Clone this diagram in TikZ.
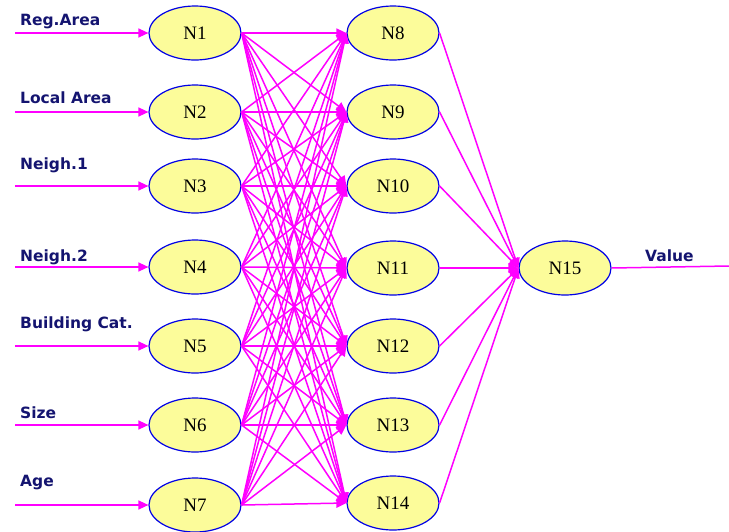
\documentclass[tikz,border=0pt]{standalone}
\usepackage{fontspec}
\setmainfont{Liberation Serif}
\newfontfamily\labfont{DejaVu Sans}
\usetikzlibrary{arrows.meta,shapes.geometric}
\definecolor{mag}{HTML}{FF00FF}
\definecolor{nodefill}{HTML}{FCFC9A}
\definecolor{nodeline}{HTML}{0000E6}
\definecolor{labcol}{HTML}{141470}
\tikzset{
  neuron/.style={ellipse, draw=nodeline, line width=1.2pt, fill=nodefill, minimum width=92pt, minimum height=54pt, inner sep=0pt, font=\fontsize{19}{19}\selectfont},
  conn/.style={draw=mag, line width=1.5pt, -{Triangle[length=10pt,width=9pt]}},
  plain/.style={draw=mag, line width=1.5pt},
  inlab/.style={anchor=base west, text=labcol, font=\labfont\bfseries\fontsize{15.5}{16}\selectfont, inner sep=0pt}
}
\begin{document}
\begin{tikzpicture}[x=1pt,y=-1pt]
\useasboundingbox (0,0) rectangle (729,531);
% input layer
\foreach \i/\y in {1/33,2/112,3/186,4/267,5/346,6/425,7/505}{
  \node[neuron] (n\i) at (195,\y) {N\i};
  \coordinate (s\i) at (15,\y);
}
% hidden layer
\foreach \i/\y in {8/33,9/112,10/186,11/268,12/346,13/425,14/503}{
  \node[neuron] (n\i) at (393,\y) {N\i};
}
\node[neuron] (n15) at (565,268) {N15};
\coordinate (out) at (729,266);
% labels
\node[inlab] at (20,25) {Reg.Area};
\node[inlab] at (20,103) {Local Area};
\node[inlab] at (20,169) {Neigh.1};
\node[inlab] at (20,261) {Neigh.2};
\node[inlab] at (20,328) {Building Cat.};
\node[inlab] at (20,418) {Size};
\node[inlab] at (20,486) {Age};
\node[inlab] at (645,261) {Value};
% input arrows
\foreach \i in {1,...,7}{
  \draw[conn] (s\i) -- (n\i.west);
}
% input to hidden
\foreach \i in {1,...,7}{
  \foreach \j in {8,...,14}{
    \draw[conn] (n\i.east) -- (n\j.west);
  }
}
% hidden to output
\foreach \j in {8,...,14}{
  \draw[conn] (n\j.east) -- (n15.west);
}
\draw[plain] (n15.east) -- (out);
\end{tikzpicture}
\end{document}
